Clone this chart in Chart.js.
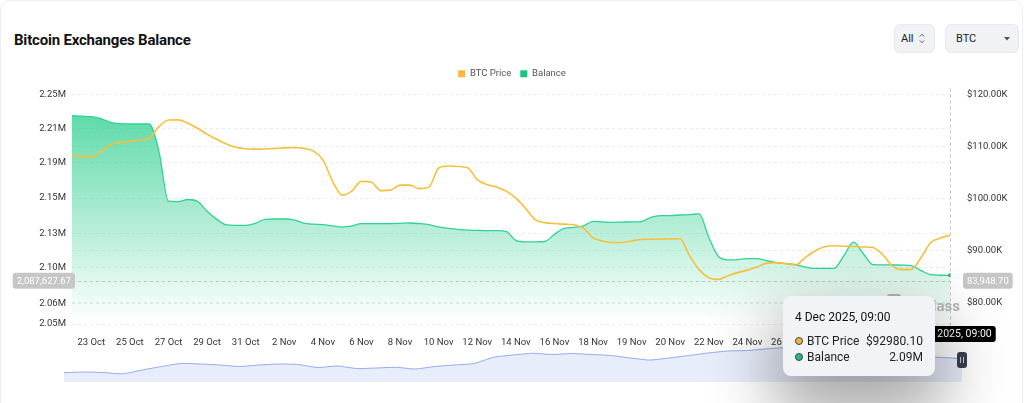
<!DOCTYPE html>
<html>
<head>
<meta charset="utf-8">
<title>Bitcoin Exchanges Balance</title>
<script src="https://cdn.jsdelivr.net/npm/chart.js@4.4.1/dist/chart.umd.min.js"></script>
<style>
  html, body { margin: 0; padding: 0; background: #fff; }
  body { width: 1024px; height: 403px; overflow: hidden; position: relative; font-family: Roboto, "Noto Sans", sans-serif; }
  .card { position: absolute; left: 0; top: 0; width: 1021px; height: 440px; border: 1px solid #eceef2; border-radius: 10px; }
  .title { position: absolute; left: 14px; top: 31px; font-size: 15px; font-weight: 700; color: #111; letter-spacing: -0.2px; }
  .ctrl { position: absolute; top: 25px; height: 27px; line-height: 27px; background: #f0f2f5; border-radius: 5px; font-size: 11px; color: #222; box-shadow: 0 0 0 1px #e7e9ec; }
  .ctrl svg { position: absolute; }
  #mainWrap { position: absolute; left: 0; top: 60px; width: 1024px; height: 288px; }
  #navWrap { position: absolute; left: 54px; top: 342px; width: 918px; height: 40px; }
  #tip { position: absolute; opacity: 0; width: 128px; padding: 13px 12px 11px 12px; background: #f1f3f6; border-radius: 8px;
         box-shadow: 0 30px 64px 10px rgba(0,0,0,0.34); font-size: 12px; color: #222; z-index: 5; pointer-events: none; }
  #tip .tt { line-height: 16px; margin-bottom: 8px; color: #111; }
  #tip .row { display: flex; align-items: center; line-height: 16px; }
  #tip .dot { width: 6px; height: 6px; border-radius: 50%; border: 1px solid #444; margin-right: 4px; }
  #tip .name { flex: 1; }
</style>
</head>
<body>
<div class="card"></div>
<div class="title">Bitcoin Exchanges Balance</div>
<div class="ctrl" style="left:895px;width:39px;">
  <span style="position:absolute;left:6px;">All</span>
  <svg style="left:24px;top:8px" width="6" height="11" viewBox="0 0 6 11"><path d="M0.8 3.6 L3 1.2 L5.2 3.6 M0.8 7.4 L3 9.8 L5.2 7.4" fill="none" stroke="#555" stroke-width="0.9"/></svg>
</div>
<div class="ctrl" style="left:946px;width:72px;">
  <span style="position:absolute;left:10px;">BTC</span>
  <svg style="left:58px;top:12px" width="6" height="4" viewBox="0 0 6 4"><path d="M0 0 L6 0 L3 3.6 Z" fill="#555"/></svg>
</div>
<div id="mainWrap"><canvas id="mainChart"></canvas></div>
<div id="navWrap"><canvas id="navChart"></canvas></div>
<div id="tip"></div>

<script>
// categories (12h steps, 6h steps around 18-20 Nov)
const categories = [
  '22 Oct 00:00','22 Oct 12:00','23 Oct 00:00','23 Oct 12:00','24 Oct 00:00','24 Oct 12:00','25 Oct 00:00','25 Oct 12:00','26 Oct 00:00','26 Oct 12:00',
  '27 Oct 00:00','27 Oct 12:00','28 Oct 00:00','28 Oct 12:00','29 Oct 00:00','29 Oct 12:00','30 Oct 00:00','30 Oct 12:00','31 Oct 00:00','31 Oct 12:00',
  '1 Nov 00:00','1 Nov 12:00','2 Nov 00:00','2 Nov 12:00','3 Nov 00:00','3 Nov 12:00','4 Nov 00:00','4 Nov 12:00','5 Nov 00:00','5 Nov 12:00',
  '6 Nov 00:00','6 Nov 12:00','7 Nov 00:00','7 Nov 12:00','8 Nov 00:00','8 Nov 12:00','9 Nov 00:00','9 Nov 12:00','10 Nov 00:00','10 Nov 12:00',
  '11 Nov 00:00','11 Nov 12:00','12 Nov 00:00','12 Nov 12:00','13 Nov 00:00','13 Nov 12:00','14 Nov 00:00','14 Nov 12:00','15 Nov 00:00','15 Nov 12:00',
  '16 Nov 00:00','16 Nov 12:00','17 Nov 00:00','17 Nov 12:00','18 Nov 00:00','18 Nov 06:00','18 Nov 12:00','18 Nov 18:00','19 Nov 00:00','19 Nov 06:00',
  '19 Nov 12:00','19 Nov 18:00','20 Nov 00:00','20 Nov 12:00','21 Nov 00:00','21 Nov 12:00','22 Nov 00:00','22 Nov 12:00','23 Nov 00:00','23 Nov 12:00',
  '24 Nov 00:00','24 Nov 12:00','25 Nov 00:00','25 Nov 12:00','26 Nov 00:00','26 Nov 12:00','27 Nov 00:00','27 Nov 12:00','28 Nov 00:00','28 Nov 12:00',
  '29 Nov 00:00','29 Nov 12:00','30 Nov 00:00','30 Nov 12:00','1 Dec 00:00','1 Dec 12:00','2 Dec 00:00','2 Dec 12:00','3 Dec 00:00','3 Dec 12:00',
  '4 Dec 00:00','4 Dec 09:00'
];
const YEAR = '2025';

// dates that get an x-axis label
const tickLabels = ['23 Oct','25 Oct','27 Oct','29 Oct','31 Oct','2 Nov','4 Nov','6 Nov','8 Nov','10 Nov','12 Nov',
  '14 Nov','16 Nov','18 Nov','19 Nov','20 Nov','22 Nov','24 Nov','26 Nov','28 Nov','30 Nov','2 Dec'];

// BTC price, USD
const btcPrice = [
  108210, 108120, 108020, 109080, 110340, 110780, 111010, 111210, 111590, 113820,
  115110, 115130, 114490, 113530, 112370, 111400, 110490, 109860, 109570, 109510,
  109530, 109620, 109760, 109820, 109660, 109180, 107440, 103380, 100680, 101450,
  103320, 103190, 101550, 101640, 102610, 102610, 101930, 102220, 105890, 106280,
  106180, 105930, 103670, 102710, 102220, 101450, 100100, 98160, 95980, 95400,
  95230, 95110, 95010, 94340, 92460, 91880, 91590, 91590, 91880, 92170,
  92210, 92230, 92270, 92310, 89080, 86380, 84830, 84500, 85220, 85800,
  86280, 86860, 87630, 87730, 87540, 87280, 88700, 89950, 90760, 90960,
  90860, 90820, 90720, 90630, 89280, 87150, 86380, 86420, 88700, 91590,
  92430, 92980.10
];

// exchange balance, BTC
const balance = [
  2231600, 2231100, 2230700, 2228900, 2225700, 2224600, 2224300, 2224300, 2224300, 2200900,
  2157000, 2156600, 2158500, 2157000, 2148200, 2141200, 2136400, 2136000, 2136000, 2137700,
  2141200, 2141500, 2141500, 2140800, 2138000, 2137000, 2136600, 2135500, 2134500, 2135500,
  2137500, 2137500, 2137500, 2137500, 2137700, 2138000, 2137500, 2136600, 2134600, 2133300,
  2132500, 2131800, 2131600, 2131300, 2131300, 2130700, 2122800, 2121500, 2121500, 2121900,
  2128100, 2133300, 2134200, 2135500, 2139500, 2139000, 2138600, 2138800, 2139000, 2139200,
  2143000, 2144500, 2144500, 2145000, 2145300, 2146000, 2125400, 2108800, 2105900, 2106100,
  2107000, 2107000, 2105300, 2103500, 2102600, 2101800, 2099600, 2098500, 2098500, 2098500,
  2109600, 2121300, 2111400, 2101800, 2101600, 2101500, 2101300, 2100900, 2096500, 2093000,
  2092500, 2092400
];

// left axis ticks as shown
const leftTickValues = [2250000, 2220200, 2190400, 2159700, 2129000, 2099000, 2067500, 2050000];
const leftTickLabels = ['2.25M', '2.21M', '2.19M', '2.15M', '2.13M', '2.10M', '2.06M', '2.05M'];
const rightTickValues = [120000, 110000, 100000, 90000, 80000];

// overview strip under the chart
const navValues = [
  9.3, 10, 9.5, 8.2, 12, 15.5, 18.5, 18, 17, 15.5,
  17, 18, 17.5, 14.5, 16, 13.5, 14, 14.7, 13, 15.5,
  17, 18.5, 24.7, 27, 28.7, 27.5, 28.5, 27.5, 26.5, 24,
  22, 24, 26.5, 29, 31, 31.5, 33.2, 34.5, 35, 34,
  33, 31, 29, 27, 25.5, 24.5, 23.5
];

// hover state in the picture
const activeIndex = 91;
const crosshairBalance = 2087627.67;
const crosshairPrice = 83948.70;

const legendColors = ['#f5b942', '#1dc47f'];
const dotColors = ['#f2b733', '#1dbf7e'];
const gridColor = '#ebebeb';
const tickColor = '#333';

Chart.defaults.font.family = 'Roboto, "Noto Sans", sans-serif';
Chart.defaults.font.size = 9.5;

const fmt2 = v => v.toLocaleString('en-US', { minimumFractionDigits: 2, maximumFractionDigits: 2 });

function externalTooltip(context) {
  const { chart, tooltip } = context;
  const el = document.getElementById('tip');
  if (tooltip.opacity === 0) { el.style.opacity = 0; return; }
  const rows = tooltip.dataPoints.map(dp => {
    const val = dp.datasetIndex === 0 ? '$' + dp.raw.toFixed(2) : (dp.raw / 1e6).toFixed(2) + 'M';
    return `<div class="row"><span class="dot" style="background:${dotColors[dp.datasetIndex]}"></span>` +
           `<span class="name">${dp.dataset.label}</span><span>${val}</span></div>`;
  }).join('');
  el.innerHTML = `<div class="tt">${tooltip.title[0]}</div>${rows}`;
  const wrap = chart.canvas.parentNode;
  const yPix = chart.scales.y.getPixelForValue(crosshairBalance);
  el.style.left = (wrap.offsetLeft + tooltip.caretX - 15 - el.offsetWidth) + 'px';
  el.style.top = (wrap.offsetTop + yPix + 15) + 'px';
  el.style.opacity = 1;
}

function labelBox(ctx, text, cx, cy, bg, align, size) {
  ctx.font = size + 'px Roboto, sans-serif';
  const w = ctx.measureText(text).width + 8;
  let x = cx - w / 2;
  if (align === 'right') x = cx - w;
  if (align === 'left') x = cx;
  ctx.fillStyle = bg;
  ctx.beginPath();
  ctx.roundRect(x, cy - 8, w, 16, 3);
  ctx.fill();
  ctx.fillStyle = '#fff';
  ctx.textAlign = 'center';
  ctx.textBaseline = 'middle';
  ctx.fillText(text, x + w / 2, cy + 0.5);
}

// watermark + crosshair with axis labels
const crosshairPlugin = {
  id: 'crosshair',
  afterDatasetsDraw(chart) {
    const { ctx, chartArea, scales } = chart;
    const px = scales.x.getPixelForValue(activeIndex);
    const py = scales.y.getPixelForValue(crosshairBalance);
    ctx.save();
    // watermark
    ctx.fillStyle = '#b4b4b4';
    ctx.font = '600 15px Roboto, sans-serif';
    ctx.textAlign = 'right';
    ctx.textBaseline = 'alphabetic';
    ctx.fillText('coinglass', chartArea.right + 10, chartArea.bottom - 13);
    ctx.beginPath();
    ctx.roundRect(chartArea.right - 63, chartArea.bottom - 30, 14, 12, 3);
    ctx.fill();
    // lines
    ctx.strokeStyle = '#c4c4c4';
    ctx.lineWidth = 1;
    ctx.setLineDash([3, 3]);
    ctx.beginPath();
    ctx.moveTo(px + 0.5, chartArea.top - 6);
    ctx.lineTo(px + 0.5, chartArea.bottom + 4);
    ctx.moveTo(chartArea.left, Math.round(py) + 0.5);
    ctx.lineTo(chartArea.right, Math.round(py) + 0.5);
    ctx.stroke();
    ctx.setLineDash([]);
    labelBox(ctx, fmt2(crosshairBalance), chartArea.left + 3, py, '#c6c6c6', 'right', 9.5);
    labelBox(ctx, fmt2(crosshairPrice), chartArea.right + 13, py, '#c6c6c6', 'left', 9.5);
    const c = categories[activeIndex];
    const sp = c.lastIndexOf(' ');
    labelBox(ctx, c.slice(0, sp) + ' ' + YEAR + ', ' + c.slice(sp + 1), px, chartArea.bottom + 10, '#000', 'center', 10.5);
    ctx.restore();
  }
};

// a bit more room between legend and plot
const legendGap = {
  id: 'legendGap',
  beforeInit(chart) {
    const fit = chart.legend.fit;
    chart.legend.fit = function () { fit.bind(chart.legend)(); this.height += 6; };
  }
};

const ctx = document.getElementById('mainChart').getContext('2d');
const mainChart = new Chart(ctx, {
  type: 'line',
  data: {
    labels: categories,
    datasets: [
      {
        label: 'BTC Price',
        data: btcPrice,
        yAxisID: 'y1',
        borderColor: '#f7c03c',
        backgroundColor: '#f7c03c',
        borderWidth: 1.6,
        pointRadius: 0,
        pointHoverRadius: 0,
        cubicInterpolationMode: 'monotone',
        fill: false,
        order: 0
      },
      {
        label: 'Balance',
        data: balance,
        yAxisID: 'y',
        borderColor: '#2fd396',
        borderWidth: 1.3,
        backgroundColor: function (context) {
          const { ctx, chartArea } = context.chart;
          if (!chartArea) return 'rgba(48,207,144,0.4)';
          const g = ctx.createLinearGradient(0, chartArea.top, 0, chartArea.bottom);
          g.addColorStop(0, 'rgba(48,207,144,0.85)');
          g.addColorStop(0.5, 'rgba(48,207,144,0.42)');
          g.addColorStop(1, 'rgba(48,207,144,0.0)');
          return g;
        },
        fill: 'start',
        pointRadius: 0,
        pointHoverRadius: 2,
        pointHoverBorderWidth: 0,
        pointHoverBackgroundColor: '#16b873',
        cubicInterpolationMode: 'monotone',
        order: 1
      }
    ]
  },
  options: {
    responsive: true,
    maintainAspectRatio: false,
    animation: false,
    layout: { padding: 0 },
    interaction: { mode: 'index', intersect: false },
    plugins: {
      legend: {
        labels: {
          boxWidth: 7,
          boxHeight: 7,
          padding: 9,
          color: '#555',
          font: { size: 9.5 },
          generateLabels(chart) {
            const items = Chart.defaults.plugins.legend.labels.generateLabels(chart);
            items.forEach((it, i) => { it.fillStyle = legendColors[i]; it.strokeStyle = legendColors[i]; it.lineWidth = 0; });
            return items;
          }
        }
      },
      tooltip: {
        enabled: false,
        external: externalTooltip,
        callbacks: {
          title(items) {
            const c = items[0].label;
            const sp = c.lastIndexOf(' ');
            return c.slice(0, sp) + ' ' + YEAR + ', ' + c.slice(sp + 1);
          }
        }
      }
    },
    scales: {
      x: {
        grid: { display: false },
        border: { display: false },
        ticks: {
          autoSkip: false,
          maxRotation: 0,
          padding: 5,
          color: tickColor,
          callback(value, index) {
            const c = categories[index];
            const sp = c.lastIndexOf(' ');
            const day = c.slice(0, sp);
            return (c.slice(sp + 1) === '00:00' && tickLabels.includes(day)) ? day : '';
          }
        },
        afterFit(scale) { scale.height = 24; }
      },
      y: {
        position: 'left',
        min: 2050000,
        max: 2250000,
        afterBuildTicks(scale) { scale.ticks = leftTickValues.map(v => ({ value: v })); },
        ticks: { padding: 6, color: tickColor, callback: (v, i) => leftTickLabels[i] },
        grid: { color: gridColor, drawTicks: false },
        border: { display: false, dash: [3, 3] },
        afterFit(scale) { scale.width = 72; }
      },
      y1: {
        position: 'right',
        min: 75940,
        max: 120000,
        afterBuildTicks(scale) { scale.ticks = rightTickValues.map(v => ({ value: v })); },
        ticks: { padding: 17, color: tickColor, callback: v => '$' + (v / 1000).toFixed(2) + 'K' },
        grid: { color: gridColor, drawTicks: false },
        border: { display: false, dash: [3, 3] },
        afterFit(scale) { scale.width = 74; }
      }
    }
  },
  plugins: [crosshairPlugin, legendGap]
});

const active = [{ datasetIndex: 0, index: activeIndex }, { datasetIndex: 1, index: activeIndex }];
const pt = mainChart.getDatasetMeta(1).data[activeIndex];
mainChart.setActiveElements(active);
mainChart.tooltip.setActiveElements(active, { x: pt.x, y: pt.y });
mainChart.update();

// overview strip with the range handle
const handlePlugin = {
  id: 'handle',
  afterDraw(chart) {
    const { ctx, chartArea } = chart;
    const x = chartArea.right, y = chartArea.top + 10;
    ctx.save();
    ctx.fillStyle = '#3a404d';
    ctx.beginPath();
    ctx.roundRect(x - 5, y, 10, 16, 3);
    ctx.fill();
    ctx.strokeStyle = '#c9ccd3';
    ctx.lineWidth = 1;
    ctx.beginPath();
    ctx.moveTo(x - 1.5, y + 5); ctx.lineTo(x - 1.5, y + 11);
    ctx.moveTo(x + 1.5, y + 5); ctx.lineTo(x + 1.5, y + 11);
    ctx.stroke();
    ctx.restore();
  }
};

new Chart(document.getElementById('navChart').getContext('2d'), {
  type: 'line',
  data: {
    labels: navValues.map((_, i) => i),
    datasets: [{
      data: navValues,
      borderColor: '#93abe9',
      borderWidth: 1,
      backgroundColor: '#e7edfb',
      fill: 'origin',
      pointRadius: 0,
      tension: 0.2
    }]
  },
  options: {
    responsive: true,
    maintainAspectRatio: false,
    animation: false,
    layout: { padding: { left: 10, right: 10, top: 0, bottom: 0 } },
    events: [],
    plugins: { legend: { display: false }, tooltip: { enabled: false } },
    scales: {
      x: { display: false },
      y: { display: false, min: 0, max: 40 }
    }
  },
  plugins: [handlePlugin]
});
</script>
</body>
</html>
